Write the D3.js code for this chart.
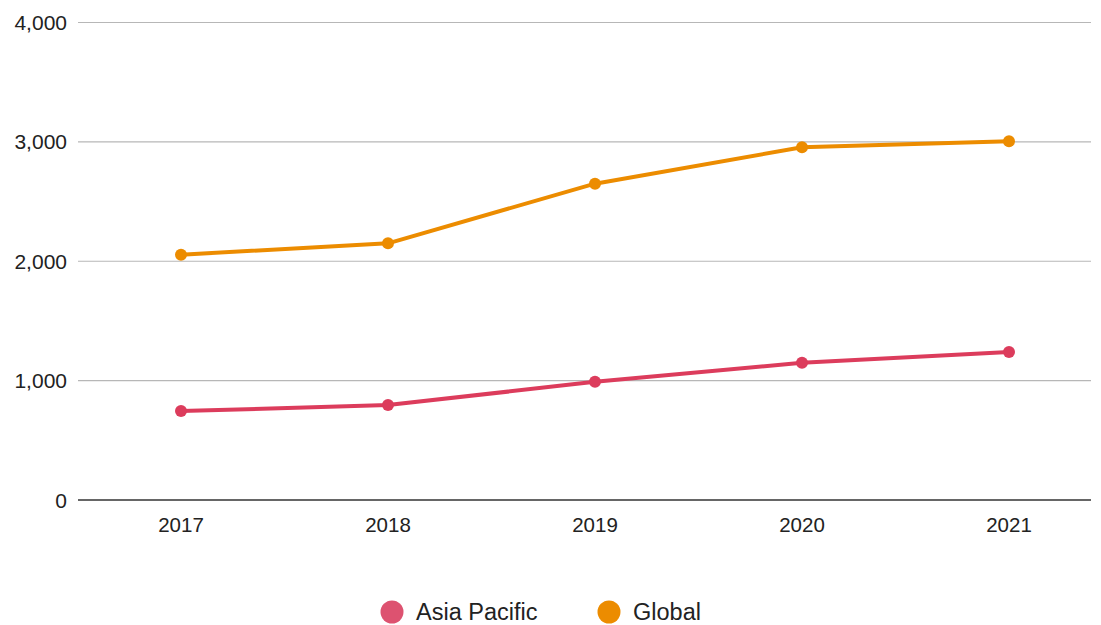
<!DOCTYPE html>
<html>
<head>
<meta charset="utf-8">
<script src="https://cdn.jsdelivr.net/npm/d3@7"></script>
<style>
  body { margin: 0; background: #fff; }
  text { font-family: "Liberation Sans", Arial, sans-serif; fill: #222; }
</style>
</head>
<body>
<svg id="chart" width="1101" height="625"></svg>
<script>
// data
var years = ["2017", "2018", "2019", "2020", "2021"];
var asiaPacific = [745, 795, 990, 1150, 1240];
var globalVals = [2055, 2150, 2650, 2955, 3005];
var yTicks = [0, 1000, 2000, 3000, 4000];

var svg = d3.select("#chart");

var plotLeft = 78, plotRight = 1091, plotTop = 22.5, plotBottom = 500;

var x = d3.scalePoint()
    .domain(years)
    .range([181, 1009]);

var y = d3.scaleLinear()
    .domain([0, 4000])
    .range([plotBottom, plotTop]);

// gridlines
svg.append("g")
    .selectAll("line")
    .data(yTicks.filter(function(d) { return d > 0; }))
    .enter()
    .append("line")
    .attr("x1", plotLeft)
    .attr("x2", plotRight)
    .attr("y1", function(d) { return y(d); })
    .attr("y2", function(d) { return y(d); })
    .attr("stroke", "#b7b7b7")
    .attr("stroke-width", 1.2);

// baseline
svg.append("line")
    .attr("x1", plotLeft)
    .attr("x2", plotRight)
    .attr("y1", y(0))
    .attr("y2", y(0))
    .attr("stroke", "#333")
    .attr("stroke-width", 1.5);

// y labels
svg.append("g")
    .selectAll("text")
    .data(yTicks)
    .enter()
    .append("text")
    .attr("x", 67)
    .attr("y", function(d) { return y(d); })
    .attr("dy", "0.36em")
    .attr("text-anchor", "end")
    .attr("font-size", "21px")
    .text(function(d) { return d3.format(",")(d); });

// x labels
svg.append("g")
    .selectAll("text")
    .data(years)
    .enter()
    .append("text")
    .attr("x", function(d) { return x(d); })
    .attr("y", 532)
    .attr("text-anchor", "middle")
    .attr("font-size", "20.5px")
    .text(function(d) { return d; });

var series = [
    { name: "Asia Pacific", values: asiaPacific, color: "#dc3c5c", legend: "#dd5270" },
    { name: "Global", values: globalVals, color: "#ec8c00", legend: "#ec8c00" }
];

var line = d3.line()
    .x(function(d, i) { return x(years[i]); })
    .y(function(d) { return y(d); });

series.forEach(function(s) {
    svg.append("path")
        .datum(s.values)
        .attr("fill", "none")
        .attr("stroke", s.color)
        .attr("stroke-width", 4)
        .attr("stroke-linejoin", "round")
        .attr("d", line);

    svg.append("g")
        .selectAll("circle")
        .data(s.values)
        .enter()
        .append("circle")
        .attr("cx", function(d, i) { return x(years[i]); })
        .attr("cy", function(d) { return y(d); })
        .attr("r", 6)
        .attr("fill", s.color);
});

// legend
var legendX = [392, 609];
var legend = svg.append("g");
legend.selectAll("circle")
    .data(series)
    .enter()
    .append("circle")
    .attr("cx", function(d, i) { return legendX[i]; })
    .attr("cy", 612)
    .attr("r", 11.5)
    .attr("fill", function(d) { return d.legend; });

legend.selectAll("text")
    .data(series)
    .enter()
    .append("text")
    .attr("x", function(d, i) { return legendX[i] + 24; })
    .attr("y", 612)
    .attr("dy", "0.36em")
    .attr("font-size", "23.5px")
    .text(function(d) { return d.name; });
</script>
</body>
</html>
